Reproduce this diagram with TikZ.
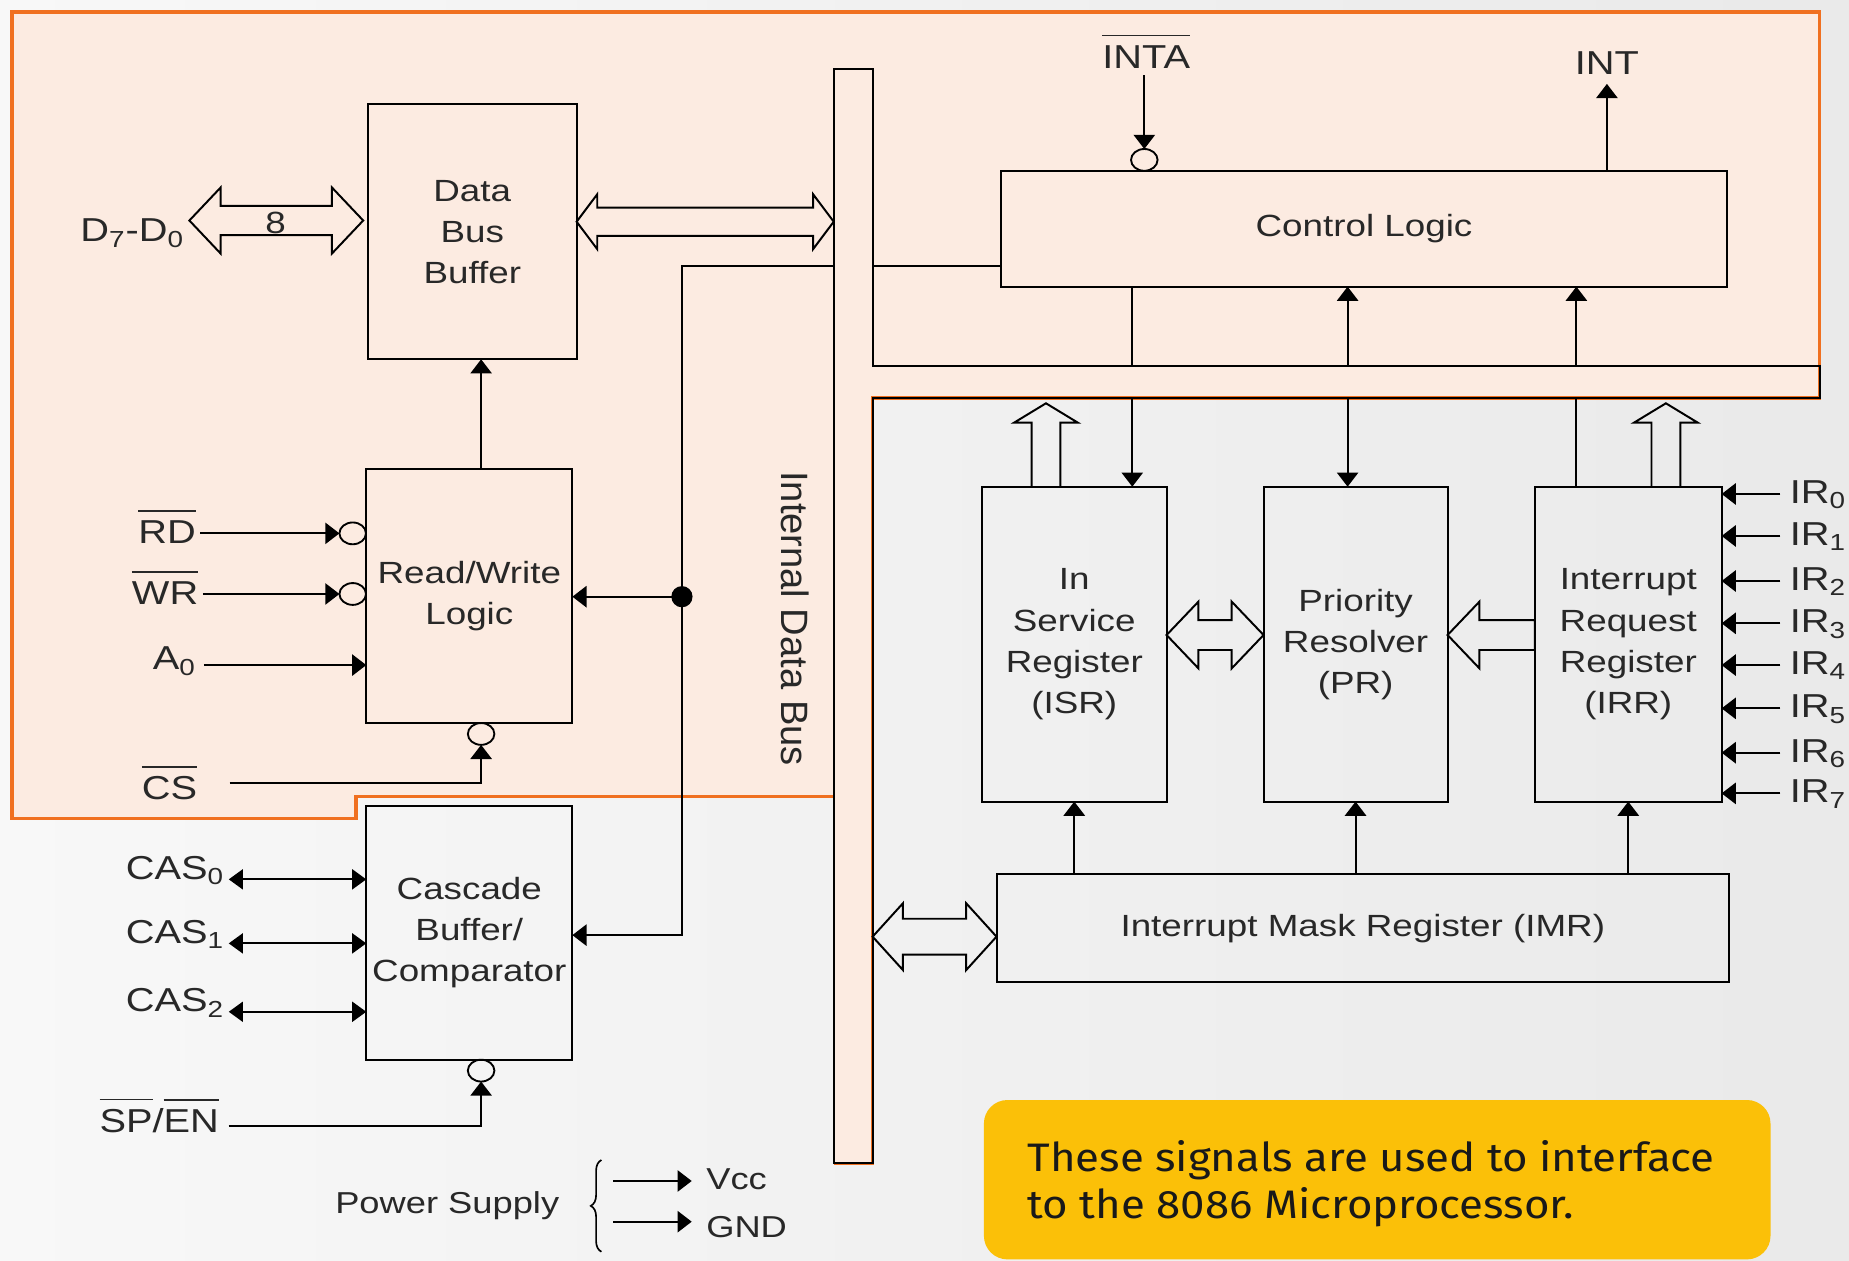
\documentclass[tikz,border=0pt]{standalone}
\usepackage{fontspec}
\setmainfont{Liberation Sans}[FakeStretch=1.2]
\newfontfamily\busfont{Liberation Sans}
\newfontfamily\notefont{Fira Sans}[FakeStretch=1.1]
\usetikzlibrary{arrows.meta,shapes.geometric,calc,decorations.pathreplacing}
\definecolor{peach}{RGB}{252,235,225}
\definecolor{orng}{RGB}{240,112,32}
\definecolor{notey}{RGB}{251,192,8}
\definecolor{ink}{RGB}{40,40,40}
\pgfdeclarehorizontalshading{bgsh}{100bp}{color(0bp)=(white); color(45bp)=(white!95!black); color(80bp)=(white!91!black); color(100bp)=(white!84!black)}
\newcommand\ovl[1]{\vbox{\hrule height 0.7pt\kern 4.5pt\hbox{#1}}}
\newcommand\boxfont{\fontsize{14.8}{19.8}\selectfont}
\newcommand\pinfont{\fontsize{16}{19}\selectfont}
\newcommand\psfont{\fontsize{14.6}{18}\selectfont}
% hollow double arrow: #1 left tip, #2 right tip, #3 shaft half, #4 head half, #5 head length
\newcommand\hdbl[5]{%
  \draw[hollow] let \p1=(#1), \p2=(#2) in
    (\p1) -- ($(\p1)+(#5,-#4)$) -- ($(\p1)+(#5,-#3)$)
    -- ($(\x2,\y1)+(-#5,-#3)$) -- ($(\x2,\y1)+(-#5,-#4)$) -- (\x2,\y1)
    -- ($(\x2,\y1)+(-#5,#4)$) -- ($(\x2,\y1)+(-#5,#3)$)
    -- ($(\p1)+(#5,#3)$) -- ($(\p1)+(#5,#4)$) -- cycle;}
% hollow arrow pointing left: #1 tail, #2 tip
\newcommand\hlft[5]{%
  \draw[hollow] let \p1=(#1), \p2=(#2) in
    (\x2,\y1) -- ($(\x2,\y1)+(#5,-#4)$) -- ($(\x2,\y1)+(#5,-#3)$)
    -- ($(\p1)+(0,-#3)$) -- ($(\p1)+(0,#3)$)
    -- ($(\x2,\y1)+(#5,#3)$) -- ($(\x2,\y1)+(#5,#4)$) -- cycle;}
% hollow arrow pointing up: #1 tail, #2 tip
\newcommand\hup[5]{%
  \draw[hollow] let \p1=(#1), \p2=(#2) in
    ($(\p1)+(-#3,0)$) -- ($(\x1,\y2)+(-#3,#5)$) -- ($(\x1,\y2)+(-#4,#5)$)
    -- (\x1,\y2) -- ($(\x1,\y2)+(#4,#5)$) -- ($(\x1,\y2)+(#3,#5)$) -- ($(\p1)+(#3,0)$);}
\begin{document}
\begin{tikzpicture}[x=0.02cm, y=-0.02cm,
  blk/.style={draw, line width=0.95pt, inner sep=0pt, outer sep=0pt, align=center, font=\boxfont, text=ink},
  arr/.style={line width=0.95pt, -{Triangle[length=0.24cm,width=0.36cm]}},
  darr/.style={line width=0.95pt, {Triangle[length=0.24cm,width=0.34cm]}-{Triangle[length=0.24cm,width=0.34cm]}},
  ln/.style={line width=0.95pt},
  bub/.style={draw, ellipse, line width=0.9pt, minimum width=0.45cm, minimum height=0.37cm, inner sep=0pt, outer sep=0pt},
  pinlab/.style={font=\pinfont, inner xsep=2pt, inner ysep=0pt, text=ink},
  hollow/.style={draw, line width=0.95pt, line join=miter}]
\useasboundingbox (0,0) rectangle (1568,1069);
\shade[shading=bgsh] (0,0) rectangle (1568,1069);
% orange region
\fill[peach] (10,10) -- (1543,10) -- (1543,337.6) -- (740,337.6) -- (740,986.5) -- (707,986.5)
  -- (707,675.6) -- (302,675.6) -- (302,694) -- (10,694) -- cycle;
\draw[orng, line width=1.7pt, line join=miter] (707,675.6) -- (302,675.6) -- (302,694) -- (10,694)
  -- (10,10) -- (1543,10) -- (1543,337.6) -- (740,337.6) -- (740,986.5) -- (707,986.5);
% internal data bus
\draw[line width=0.95pt] (707,58.5) -- (740,58.5) -- (740,310) -- (1543,310) -- (1543,337.6)
  -- (740,337.6) -- (740,986.5) -- (707,986.5) -- cycle;
\node[rotate=-90, font=\busfont\fontsize{18.4}{22}\selectfont, text=ink] (idb) at (674,524.5) {Internal Data Bus};
% helper coordinates
\coordinate (busL) at (707,0); \coordinate (busR) at (740,0);
\coordinate (bandT) at (0,310); \coordinate (bandB) at (0,337.6);
\coordinate (lvA) at (0,188); \coordinate (lvB) at (0,538.5); \coordinate (lvD) at (0,794.3);
\coordinate (lvBus) at (0,225.3); \coordinate (lvCas) at (0,793);
\coordinate (c1) at (960.2,0); \coordinate (c2) at (1142.8,0); \coordinate (c3) at (1336.8,0);
\coordinate (cx) at (408,0);
% blocks
\node[blk, minimum width=3.54cm, minimum height=4.324cm] (DBB) at (400.5,196.6) {Data\\Bus\\Buffer};
\node[blk, minimum width=12.306cm, minimum height=1.968cm] (CL) at (1156.7,193.9) {Control Logic};
\node[blk, minimum width=3.496cm, minimum height=4.308cm] (RW) at (398,505.7) {Read/Write\\Logic};
\node[blk, minimum width=3.496cm, minimum height=4.308cm] (CAS) at (398,791.2) {Cascade\\Buffer/\\Comparator};
\node[blk, minimum width=3.132cm, minimum height=5.342cm] (ISR) at (911,546.25) {In\\Service\\Register\\(ISR)};
\node[blk, minimum width=3.122cm, minimum height=5.342cm] (PR) at (1149.55,546.25) {Priority\\Resolver\\(PR)};
\node[blk, minimum width=3.168cm, minimum height=5.342cm] (IRR) at (1380.8,546.25) {Interrupt\\Request\\Register\\(IRR)};
\node[blk, minimum width=12.428cm, minimum height=1.836cm] (IMR) at (1155.7,787.1) {Interrupt Mask Register (IMR)};
% data bus buffer connections
\node[pinlab, anchor=base east] (d70) at (160,205) {D\textsubscript{7}-D\textsubscript{0}};
\coordinate (d7tip) at (160.6,187);
\coordinate (d7end) at (308,187);
\hdbl{d7tip}{d7end}{12.4}{28}{26.5}
\node[font=\boxfont, text=ink, inner sep=0pt] (eight) at (233.7,189) {8};
\hdbl{DBB.east |- lvA}{busL |- lvA}{12}{23.3}{17.5}
\draw[arr] (RW.north -| cx) -- (DBB.south -| cx);
% control logic pins
\node[pinlab, anchor=base] (inta) at (972,58) {\ovl{INTA}};
\node[bub] (intab) at (970.4,135.6) {};
\draw[arr, shorten <=0.11cm] (inta.south -| intab) -- (intab.north);
\node[pinlab, anchor=base] (int) at (1362.7,62.8) {INT};
\draw[arr, shorten >=0.16cm] (CL.north -| int) -- (int.south);
% bus to control logic and registers
\draw[ln] (busR |- lvBus) -- (CL.west |- lvBus);
\draw[ln] (CL.south -| c1) -- (bandT -| c1);
\draw[arr] (bandB -| c1) -- (ISR.north -| c1);
\draw[arr] (bandT -| c2) -- (CL.south -| c2);
\draw[arr] (bandB -| c2) -- (PR.north -| c2);
\draw[arr] (bandT -| c3) -- (CL.south -| c3);
\draw[ln] (IRR.north -| c3) -- (bandB -| c3);
\coordinate (u1) at (887,342); \coordinate (u2) at (1412.7,342);
\hup{ISR.north -| u1}{u1}{12.2}{27}{16.4}
\hup{IRR.north -| u2}{u2}{12.2}{27}{16.4}
\hdbl{ISR.east |- lvB}{PR.west |- lvB}{12.7}{28.3}{27}
\hlft{IRR.west |- lvB}{PR.east |- lvB}{12.7}{28.3}{27}
\hdbl{busR |- lvD}{IMR.west |- lvD}{15.2}{28.3}{25.7}
\draw[arr] (IMR.north -| ISR.south) -- (ISR.south);
\draw[arr] (IMR.north -| PR.south) -- (PR.south);
\draw[arr] (IMR.north -| IRR.south) -- (IRR.south);
% IR inputs
\foreach \k/\yy in {0/418.9,1/454.5,2/492.7,3/528.6,4/564,5/600.7,6/638.3,7/672.8}{
  \node[pinlab, anchor=base west] (ir\k) at (1514,{\yy+8}) {IR\textsubscript{\k}};
  \coordinate (iry\k) at (1509.7,\yy);
  \draw[arr] (iry\k) -- (IRR.east |- iry\k);
}
% bus branch to R/W logic and cascade
\node[circle, fill=black, inner sep=0pt, minimum size=0.36cm] (dot) at (578.3,506) {};
\draw[arr] (busL |- lvBus) -| (dot.center) |- (CAS.east |- lvCas);
\draw[arr] (dot.center) -- (RW.east |- dot.center);
% read/write pins
\node[pinlab, anchor=base east] (rd) at (170,461.3) {\ovl{RD}};
\node[bub] (rdb) at (299.1,452.3) {};
\draw[arr] (rd.east |- rdb) -- (rdb.west);
\node[pinlab, anchor=base east] (wr) at (172,513) {\ovl{WR}};
\node[bub] (wrb) at (299.1,503.7) {};
\draw[arr] (wr.east |- wrb) -- (wrb.west);
\node[pinlab, anchor=base east] (a0) at (170,568) {A\textsubscript{0}};
\coordinate (a0l) at (172.8,564);
\draw[arr] (a0l) -- (RW.west |- a0l);
\node[pinlab, anchor=base east] (cs) at (171,678.4) {\ovl{CS}};
\node[bub] (csb) at (408,622.4) {};
\coordinate (csl) at (194.7,663.7);
\draw[arr] (csl) -| (csb.south);
% cascade pins
\node[pinlab, anchor=base east] (cas0) at (194,745.7) {CAS\textsubscript{0}};
\node[pinlab, anchor=base east] (cas1) at (194,800) {CAS\textsubscript{1}};
\node[pinlab, anchor=base east] (cas2) at (194,858) {CAS\textsubscript{2}};
\draw[darr] (cas0.base east) -- (CAS.west |- cas0.base east);
\draw[darr] (cas1.base east) -- (CAS.west |- cas1.base east);
\draw[darr] (cas2.base east) -- (CAS.west |- cas2.base east);
\node[pinlab, anchor=base east] (spen) at (189.5,960.5) {\ovl{SP}/\ovl{EN}};
\node[bub] (spb) at (408,907.9) {};
\coordinate (spl) at (193.8,955);
\draw[arr] (spl) -| (spb.south);
% power supply
\node[font=\psfont, text=ink, anchor=base east, inner sep=0pt] (ps) at (474.6,1029) {Power Supply};
\draw[decorate, decoration={brace, amplitude=0.18cm}, line width=0.8pt] (510,1061.5) -- (510,983.7);
\node[font=\psfont, text=ink, anchor=base west, inner xsep=0.24cm, inner ysep=0pt] (vcc) at (586.6,1009) {Vcc};
\node[font=\psfont, text=ink, anchor=base west, inner xsep=0.24cm, inner ysep=0pt] (gnd) at (586.6,1049.3) {GND};
\coordinate (ps1) at (519.9,1001.5); \coordinate (ps2) at (519.9,1036);
\draw[arr] (ps1) -- (vcc.west |- ps1);
\draw[arr] (ps2) -- (gnd.west |- ps2);
% note
\node[fill=notey, rounded corners=0.4cm, minimum width=13.344cm, minimum height=2.704cm, inner sep=0pt] (notebox) at (1167.9,1000.4) {};
\node[font=\notefont\fontsize{19.2}{23}\selectfont, text=black!90, anchor=base west, inner sep=0pt] (nt1) at (871,993.6) {These signals are used to interface};
\node[font=\notefont\fontsize{19.2}{23}\selectfont, text=black!90, anchor=base west, inner sep=0pt] (nt2) at (871,1033.2) {to the 8086 Microprocessor.};
\end{tikzpicture}
\end{document}
